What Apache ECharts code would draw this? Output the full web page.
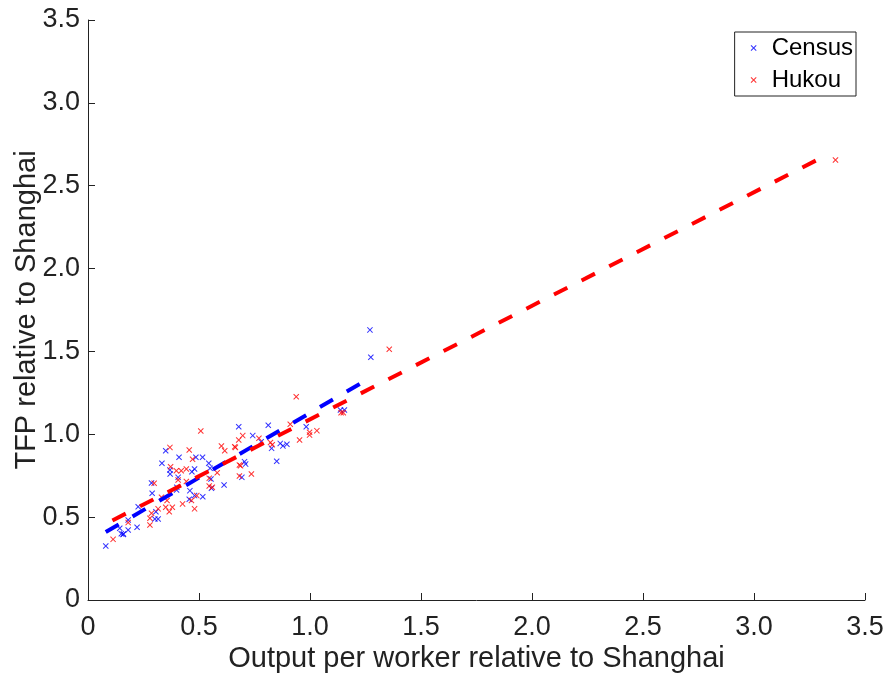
<!DOCTYPE html>
<html>
<head>
<meta charset="utf-8">
<script src="https://cdn.jsdelivr.net/npm/echarts@6/dist/echarts.min.js"></script>
<style>html,body{margin:0;padding:0;background:#fff}#c{width:888px;height:681px}</style>
</head>
<body>
<div id="c"></div>
<script>
const xTicks = [0, 0.5, 1.0, 1.5, 2.0, 2.5, 3.0, 3.5];
const yTicks = [0, 0.5, 1.0, 1.5, 2.0, 2.5, 3.0, 3.5];

const censusOutput = [0.08,0.143,0.158,0.181,0.181,0.221,0.226,0.286,0.289,0.301,0.316,0.306,0.333,0.35,0.369,0.37,0.406,0.41,0.459,0.456,0.468,0.48,0.486,0.516,0.517,0.48,0.544,0.55,0.554,0.556,0.613,0.399,0.679,0.742,0.812,0.78,0.827,0.85,0.866,0.878,0.896,0.983,0.693,0.705,0.71,1.137,1.155,1.27,1.274,0.15,0.16,0.4];
const censusTFP    = [0.326,0.433,0.396,0.422,0.483,0.439,0.563,0.706,0.644,0.489,0.489,0.533,0.825,0.901,0.785,0.76,0.74,0.861,0.66,0.608,0.774,0.79,0.861,0.861,0.623,0.63,0.825,0.795,0.73,0.674,0.694,0.664,1.046,0.992,1.054,0.955,0.915,0.837,0.945,0.93,0.94,1.046,0.74,0.835,0.82,1.147,1.147,1.63,1.465,0.4,0.398,0.68];

const hukouOutput = [0.113,0.181,0.279,0.279,0.286,0.298,0.316,0.331,0.35,0.356,0.366,0.38,0.369,0.372,0.398,0.42,0.443,0.406,0.443,0.426,0.456,0.471,0.466,0.49,0.508,0.546,0.546,0.56,0.582,0.601,0.616,0.661,0.48,0.664,0.679,0.697,0.682,0.687,0.682,0.736,0.77,0.822,0.83,0.911,0.953,0.998,0.998,1.031,1.14,1.15,1.357,0.938,3.367];
const hukouTFP    = [0.366,0.467,0.453,0.493,0.523,0.704,0.55,0.62,0.56,0.6,0.533,0.56,0.921,0.804,0.78,0.78,0.79,0.724,0.715,0.58,0.905,0.849,0.6,0.63,1.02,0.734,0.688,0.68,0.768,0.929,0.901,0.925,0.55,0.921,0.966,0.992,0.815,0.81,0.748,0.76,0.976,0.95,0.937,1.06,0.966,1.012,0.995,1.022,1.13,1.13,1.513,1.227,2.655];

const censusFitX = [0.08, 1.27];
const censusFitY = [0.41, 1.34];
const hukouFitX = [0.11, 3.32];
const hukouFitY = [0.48, 2.68];

const seriesNames = ['Census', 'Hukou'];
const colors = ['#0000ff', '#ff0000'];

const xMark = 'path://M0,1.2L1.2,0L5,3.8L8.8,0L10,1.2L6.2,5L10,8.8L8.8,10L5,6.2L1.2,10L0,8.8L3.8,5Z';
const zip = (a, b) => a.map((v, i) => [v, b[i]]);
const fmt = v => v === 0 ? '0' : v.toFixed(1);
const FONT = 'Liberation Sans';

const chart = echarts.init(document.getElementById('c'), null, {renderer: 'canvas'});
chart.setOption({
  backgroundColor: '#fff',
  animation: false,
  textStyle: {fontFamily: FONT},
  grid: {left: 88, right: 23, top: 20, bottom: 81, containLabel: false, outerBoundsMode: 'none'},
  legend: {
    orient: 'vertical', right: 32, top: 32,
    data: seriesNames.map(n => ({name: n, icon: xMark})),
    itemWidth: 6, itemHeight: 6, itemGap: 8,
    borderColor: '#222', borderWidth: 1, borderRadius: 0,
    padding: [4, 3, 4, 16],
    textStyle: {fontFamily: FONT, fontSize: 24, color: '#000', padding: [0, 0, 0, 10]}
  },
  xAxis: {
    type: 'value', min: xTicks[0], max: xTicks[xTicks.length - 1], interval: 0.5,
    name: 'Output per worker relative to Shanghai', nameLocation: 'middle', nameGap: 44,
    nameMoveOverlap: false,
    nameTextStyle: {fontFamily: FONT, fontSize: 29, color: '#222'},
    axisLine: {show: true, lineStyle: {color: '#222', width: 1}},
    axisTick: {show: true, inside: true, length: 7, lineStyle: {color: '#222'}},
    axisLabel: {fontFamily: FONT, fontSize: 27, color: '#222', margin: 14, formatter: fmt},
    splitLine: {show: false}
  },
  yAxis: {
    type: 'value', min: yTicks[0], max: yTicks[yTicks.length - 1], interval: 0.5,
    name: 'TFP relative to Shanghai', nameLocation: 'middle', nameGap: 47, nameRotate: 90,
    nameMoveOverlap: false,
    nameTextStyle: {fontFamily: FONT, fontSize: 29, color: '#222'},
    axisLine: {show: true, lineStyle: {color: '#222', width: 1}},
    axisTick: {show: true, inside: true, length: 7, lineStyle: {color: '#222'}},
    axisLabel: {fontFamily: FONT, fontSize: 27, color: '#222', margin: 8, formatter: fmt},
    splitLine: {show: false}
  },
  series: [
    {name: 'Census', type: 'scatter', symbol: xMark, symbolSize: 6,
     itemStyle: {color: colors[0]}, data: zip(censusOutput, censusTFP), z: 2},
    {name: 'Hukou', type: 'scatter', symbol: xMark, symbolSize: 6,
     itemStyle: {color: colors[1]}, data: zip(hukouOutput, hukouTFP), z: 2},
    {name: 'CensusFit', type: 'line', showSymbol: false, symbol: 'none', silent: true,
     lineStyle: {color: colors[0], width: 4, type: [15, 16], cap: 'butt'},
     data: zip(censusFitX, censusFitY), z: 3},
    {name: 'HukouFit', type: 'line', showSymbol: false, symbol: 'none', silent: true,
     lineStyle: {color: colors[1], width: 4, type: [15, 16], cap: 'butt'},
     data: zip(hukouFitX, hukouFitY), z: 4}
  ]
});
</script>
</body>
</html>
